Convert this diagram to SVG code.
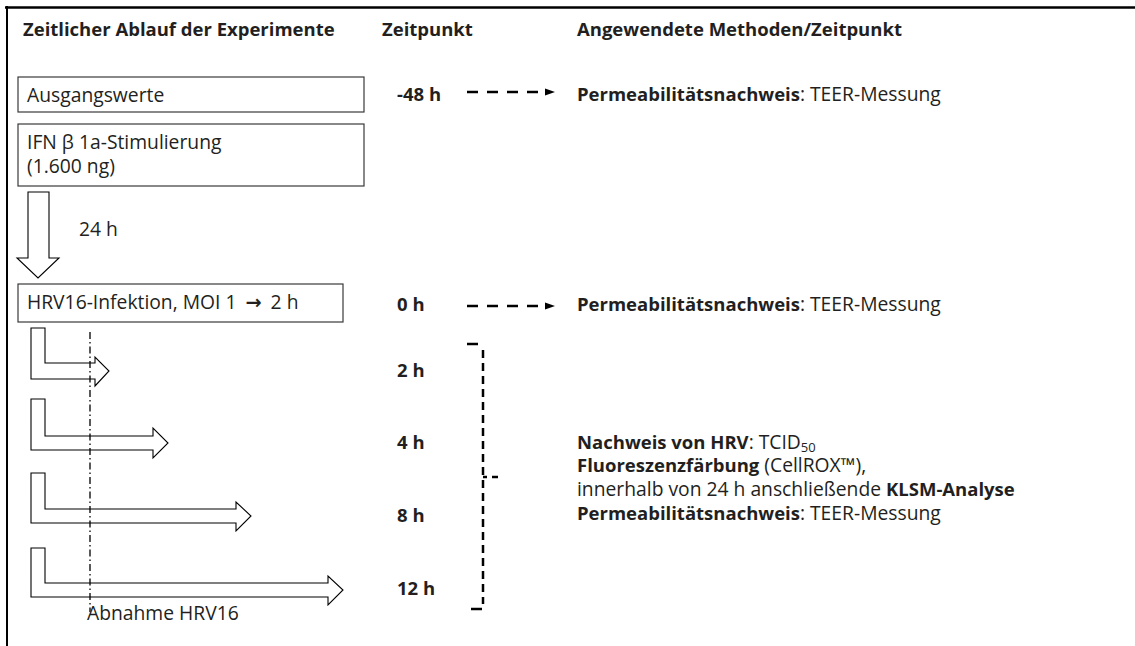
<svg xmlns="http://www.w3.org/2000/svg" width="1135" height="646" viewBox="0 0 1135 646">
<defs>
<style>
text{font-family:"Open Sans","Liberation Sans",sans-serif;font-size:19.3px;fill:#231f20}
.b{font-weight:bold;font-size:18.5px}
.ar{font-family:"DejaVu Sans",sans-serif;font-weight:bold}
.box{fill:#fff;stroke:#3a3a3a;stroke-width:1.2}
.arr{fill:#fff;stroke:#000;stroke-width:1.1;stroke-linejoin:miter}
.dash{fill:none;stroke:#000;stroke-width:2.5;stroke-dasharray:11 9}
.brk{fill:none;stroke:#000;stroke-width:2.5}
</style>
</defs>
<rect width="1135" height="646" fill="#fff"/>
<g id="frame">
<line x1="5" y1="7.5" x2="1135" y2="7.5" stroke="#000" stroke-width="2.5"/>
<line x1="7" y1="6" x2="7" y2="646" stroke="#000" stroke-width="2"/>
</g>
<g id="headers">
<text class="b" x="23" y="36">Zeitlicher Ablauf der Experimente</text>
<text class="b" x="382" y="36">Zeitpunkt</text>
<text class="b" x="577" y="36">Angewendete Methoden/Zeitpunkt</text>
</g>
<g id="node-ausgangswerte">
<rect class="box" x="18" y="77" width="346" height="35"/>
<text x="27" y="102">Ausgangswerte</text>
</g>
<g id="node-ifn">
<rect class="box" x="18" y="124" width="346" height="62"/>
<text x="27" y="149">IFN β 1a-Stimulierung</text>
<text x="27" y="173">(1.600 ng)</text>
</g>
<g id="node-24h">
<polygon class="arr" points="28,192 49,192 49,258 59,258 38,278 17,258 28,258"/>
<text x="79" y="236">24 h</text>
</g>
<g id="node-hrv">
<rect class="box" x="18" y="284" width="325" height="38"/>
<text x="27" y="309">HRV16-Infektion, MOI 1 <tspan class="ar" dx="4">→</tspan><tspan dx="4"> 2 h</tspan></text>
</g>
<g id="node-timearrows">
<polygon class="arr" points="31,328 45,328 45,363 95,363 95,357 109,371 95,386 95,379 31,379"/>
<polygon class="arr" points="31,399 45,399 45,436 153,436 153,428 168,443 153,458 153,450 31,450"/>
<polygon class="arr" points="31,473 45,473 45,509 236,509 236,502 251,516 236,531 236,523 31,523"/>
<polygon class="arr" points="31,548 45,548 45,583 328,583 328,576 343,590 328,605 328,597 31,597"/>
<line x1="90" y1="332" x2="90" y2="612" stroke="#000" stroke-width="1.3" stroke-dasharray="7 3 1.5 3"/>
<text x="87" y="620">Abnahme HRV16</text>
</g>
<g id="node-times">
<text class="b" x="397" y="101">-48 h</text>
<text class="b" x="397" y="311">0 h</text>
<text class="b" x="397" y="377">2 h</text>
<text class="b" x="397" y="449">4 h</text>
<text class="b" x="397" y="522">8 h</text>
<text class="b" x="397" y="595">12 h</text>
</g>
<g id="connectors">
<line class="dash" x1="467" y1="92" x2="545" y2="92"/>
<path d="M545,88.5 L555,92 L545,95.5 Z" fill="#000"/>
<line class="dash" x1="467" y1="306" x2="545" y2="306"/>
<path d="M545,302.5 L555,306 L545,309.5 Z" fill="#000"/>
<line class="brk" x1="467" y1="344" x2="478" y2="344"/>
<line class="brk" x1="483" y1="350" x2="483" y2="604" stroke-dasharray="8 5"/>
<line class="brk" x1="471" y1="609" x2="482" y2="609"/>
<line class="brk" x1="483" y1="477" x2="487" y2="477"/>
<line class="brk" x1="492" y1="477" x2="498" y2="477"/>
</g>
<g id="node-methods">
<text x="577" y="101"><tspan class="b">Permeabilitätsnachweis</tspan>: TEER-Messung</text>
<text x="577" y="311"><tspan class="b">Permeabilitätsnachweis</tspan>: TEER-Messung</text>
<text x="577" y="449"><tspan class="b">Nachweis von HRV</tspan>: TCID<tspan font-size="13" dy="3">50</tspan></text>
<text x="577" y="472"><tspan class="b">Fluoreszenzfärbung</tspan> (CellROX™),</text>
<text x="577" y="496">innerhalb von 24 h anschließende <tspan class="b">KLSM-Analyse</tspan></text>
<text x="577" y="520"><tspan class="b">Permeabilitätsnachweis</tspan>: TEER-Messung</text>
</g>
</svg>
